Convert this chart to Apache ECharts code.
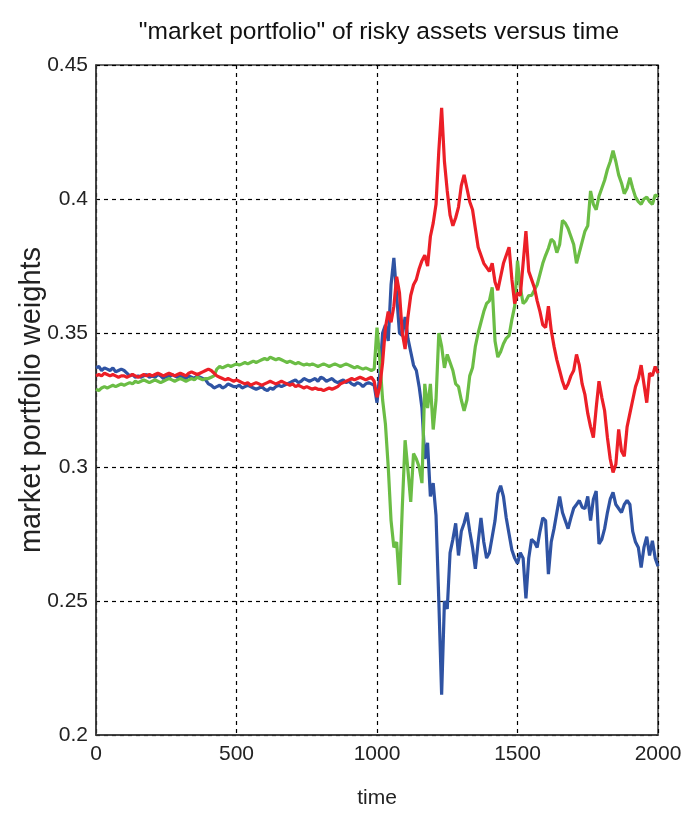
<!DOCTYPE html>
<html>
<head>
<meta charset="utf-8">
<script src="https://cdn.jsdelivr.net/npm/echarts@6/dist/echarts.min.js"></script>
<style>
  html, body { margin: 0; padding: 0; background: #fff; }
  #chart { width: 685px; height: 814px; }
</style>
</head>
<body>
<div id="chart"></div>
<script>
// Sampling step along the time axis (one value every 10 steps, t = 0 .. 2000)
const TIME_STEP = 10;
const xTicks = [0, 500, 1000, 1500, 2000];
const yTicks = [0.2, 0.25, 0.3, 0.35, 0.4, 0.45];

// Portfolio weight of asset 1 (blue)
const weightBlue = [
  0.337,0.3375,0.336,0.337,0.3365,0.336,0.337,0.3355,0.336,0.3365,
  0.336,0.335,0.334,0.3345,0.3335,0.334,0.3335,0.334,0.3345,0.3335,
  0.334,0.3335,0.3345,0.334,0.333,0.334,0.3335,0.3345,0.334,0.3335,
  0.334,0.3335,0.333,0.334,0.3335,0.333,0.334,0.3335,0.333,0.3325,
  0.331,0.3305,0.3295,0.330,0.3305,0.3295,0.330,0.331,0.3305,0.330,
  0.330,0.3305,0.3295,0.330,0.3305,0.330,0.3295,0.329,0.3295,0.330,
  0.329,0.3285,0.3295,0.329,0.330,0.3305,0.330,0.3305,0.331,0.3315,
  0.332,0.3325,0.3315,0.332,0.333,0.3325,0.332,0.3325,0.333,0.332,
  0.3335,0.333,0.332,0.3325,0.333,0.332,0.3315,0.332,0.3325,0.3315,
  0.332,0.331,0.3305,0.3315,0.331,0.330,0.331,0.3315,0.331,0.3305,
  0.324,0.335,0.350,0.353,0.347,0.368,0.378,0.364,0.350,0.349,
  0.356,0.348,0.343,0.338,0.336,0.330,0.322,0.303,0.309,0.289,
  0.294,0.282,0.250,0.215,0.250,0.247,0.268,0.273,0.279,0.267,
  0.276,0.279,0.283,0.276,0.270,0.262,0.272,0.281,0.272,0.266,
  0.268,0.274,0.280,0.290,0.293,0.289,0.281,0.275,0.269,0.266,
  0.264,0.268,0.266,0.251,0.266,0.273,0.272,0.270,0.276,0.281,
  0.280,0.260,0.272,0.277,0.283,0.289,0.283,0.280,0.277,0.281,
  0.2846,0.286,0.2875,0.285,0.2845,0.289,0.280,0.288,0.291,0.2713,
  0.273,0.277,0.283,0.288,0.2905,0.286,0.2845,0.283,0.286,0.2875,
  0.286,0.276,0.272,0.270,0.2625,0.270,0.274,0.267,0.2725,0.266,
  0.263
];

// Portfolio weight of asset 2 (red)
const weightRed = [
  0.334,0.3345,0.334,0.335,0.3345,0.334,0.3345,0.334,0.3335,0.334,
  0.334,0.3335,0.334,0.3345,0.334,0.3335,0.334,0.3345,0.334,0.3345,
  0.334,0.3345,0.335,0.3345,0.334,0.3345,0.335,0.3345,0.334,0.3345,
  0.335,0.3345,0.334,0.335,0.3355,0.335,0.3345,0.335,0.3355,0.336,
  0.3365,0.336,0.335,0.334,0.3335,0.333,0.3325,0.333,0.3325,0.332,
  0.3325,0.332,0.3315,0.331,0.3315,0.3305,0.331,0.3315,0.331,0.3305,
  0.331,0.3315,0.332,0.3315,0.331,0.3315,0.332,0.3315,0.331,0.3305,
  0.331,0.330,0.3305,0.330,0.3295,0.330,0.3295,0.329,0.3295,0.329,
  0.329,0.3285,0.329,0.3295,0.329,0.3295,0.330,0.331,0.3315,0.332,
  0.3325,0.333,0.3325,0.333,0.3335,0.333,0.3325,0.333,0.3335,0.332,
  0.326,0.330,0.339,0.352,0.358,0.354,0.360,0.371,0.365,0.350,
  0.344,0.356,0.364,0.368,0.370,0.374,0.377,0.379,0.375,0.386,
  0.391,0.398,0.418,0.434,0.414,0.403,0.394,0.390,0.393,0.397,
  0.405,0.409,0.404,0.399,0.396,0.389,0.382,0.379,0.376,0.3745,
  0.373,0.376,0.369,0.366,0.371,0.376,0.379,0.382,0.370,0.361,
  0.365,0.364,0.376,0.388,0.373,0.370,0.367,0.362,0.358,0.353,
  0.352,0.360,0.351,0.345,0.340,0.336,0.332,0.329,0.331,0.334,
  0.336,0.342,0.338,0.331,0.327,0.320,0.315,0.311,0.322,0.332,
  0.326,0.321,0.311,0.303,0.298,0.301,0.314,0.306,0.304,0.315,
  0.320,0.325,0.330,0.333,0.338,0.331,0.324,0.335,0.334,0.3375,
  0.335
];

// Portfolio weight of asset 3 (green)
const weightGreen = [
  0.329,0.3285,0.3295,0.330,0.3295,0.330,0.3305,0.330,0.3305,0.331,
  0.3305,0.331,0.3315,0.331,0.332,0.3315,0.332,0.3325,0.332,0.3315,
  0.332,0.3325,0.332,0.3315,0.332,0.3325,0.333,0.3325,0.332,0.3325,
  0.333,0.3325,0.332,0.3325,0.333,0.3325,0.3335,0.333,0.3325,0.333,
  0.333,0.3335,0.334,0.3365,0.3375,0.337,0.3375,0.338,0.3375,0.338,
  0.3385,0.338,0.3385,0.339,0.3385,0.339,0.3395,0.339,0.3395,0.340,
  0.3405,0.340,0.341,0.3405,0.340,0.3405,0.340,0.3395,0.339,0.3395,
  0.339,0.3385,0.339,0.3385,0.338,0.3385,0.338,0.3385,0.338,0.3375,
  0.338,0.3385,0.338,0.3375,0.338,0.3385,0.338,0.3375,0.338,0.3385,
  0.338,0.3375,0.337,0.3375,0.337,0.3365,0.337,0.3365,0.336,0.3365,
  0.352,0.340,0.325,0.316,0.300,0.280,0.270,0.272,0.256,0.285,
  0.310,0.299,0.287,0.305,0.303,0.300,0.294,0.331,0.322,0.331,
  0.314,0.325,0.350,0.345,0.337,0.342,0.339,0.336,0.331,0.330,
  0.325,0.321,0.325,0.334,0.337,0.345,0.350,0.354,0.358,0.361,
  0.362,0.367,0.347,0.341,0.343,0.346,0.348,0.349,0.355,0.360,
  0.377,0.367,0.361,0.362,0.364,0.364,0.366,0.368,0.372,0.376,
  0.379,0.3816,0.385,0.384,0.380,0.383,0.392,0.391,0.389,0.386,
  0.383,0.376,0.380,0.384,0.388,0.390,0.403,0.398,0.396,0.401,
  0.404,0.407,0.411,0.414,0.418,0.414,0.409,0.406,0.402,0.404,
  0.408,0.404,0.4007,0.399,0.398,0.400,0.4007,0.399,0.398,0.4015,
  0.401
];

const SANS = '"Liberation Sans", Arial, Helvetica, sans-serif';

function toPoints(values) {
  return values.map((v, i) => [i * TIME_STEP, v]);
}

function lineSeries(name, values, color) {
  return {
    name: name,
    type: 'line',
    data: toPoints(values),
    showSymbol: false,
    silent: true,
    animation: false,
    lineStyle: { color: color, width: 3.2 },
    clip: true
  };
}

const chart = echarts.init(document.getElementById('chart'), null, { renderer: 'canvas' });

chart.setOption({
  backgroundColor: '#ffffff',
  animation: false,
  title: {
    text: '"market portfolio" of risky assets versus time',
    left: 374,
    textAlign: 'center',
    top: 15,
    textStyle: { fontFamily: SANS, fontSize: 24.5, fontWeight: 'normal', color: '#111' }
  },
  grid: {
    left: 96, right: 27, top: 65, bottom: 78,
    show: true, borderColor: '#3a3a3a', borderWidth: 1.5, backgroundColor: '#ffffff'
  },
  xAxis: {
    type: 'value',
    min: xTicks[0],
    max: xTicks[xTicks.length - 1],
    interval: xTicks[1] - xTicks[0],
    name: 'time',
    nameLocation: 'middle',
    nameGap: 53,
    nameMoveOverlap: false,
    nameTextStyle: { fontFamily: SANS, fontSize: 21, color: '#222' },
    axisLine: { show: true, lineStyle: { color: '#3a3a3a', width: 1.5 } },
    axisTick: { show: false },
    axisLabel: {
      fontFamily: SANS, fontSize: 21, color: '#222', margin: 9,
      formatter: v => String(v)
    },
    splitLine: { show: true, lineStyle: { color: '#000', type: [4, 4], width: 1.2 } }
  },
  yAxis: {
    type: 'value',
    min: yTicks[0],
    max: yTicks[yTicks.length - 1],
    interval: 0.05,
    name: 'market portfolio weights',
    nameLocation: 'middle',
    nameGap: 50,
    nameMoveOverlap: false,
    nameRotate: 90,
    nameTextStyle: { fontFamily: SANS, fontSize: 29, color: '#222' },
    axisLine: { show: true, lineStyle: { color: '#3a3a3a', width: 1.5 } },
    axisTick: { show: false },
    axisLabel: {
      fontFamily: SANS, fontSize: 21, color: '#222', margin: 8,
      formatter: v => String(+v.toFixed(2))
    },
    splitLine: { show: true, lineStyle: { color: '#000', type: [4, 4], width: 1.2 } }
  },
  series: [
    lineSeries('asset 1', weightBlue, '#2f53a3'),
    lineSeries('asset 3', weightGreen, '#6bbd45'),
    lineSeries('asset 2', weightRed, '#ec1f27')
  ]
});
</script>
</body>
</html>
